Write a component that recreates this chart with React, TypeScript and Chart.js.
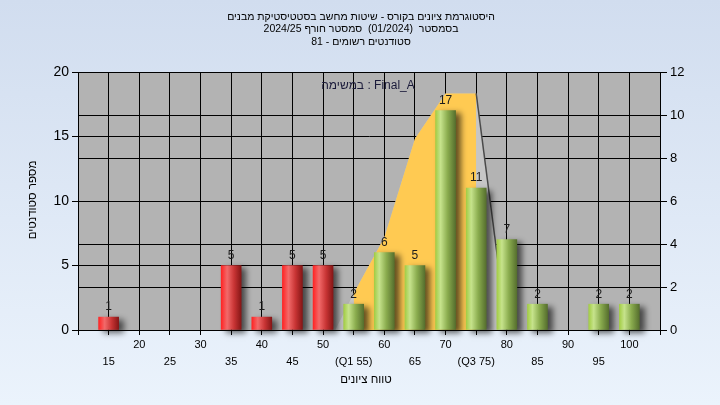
import React, { useEffect, useRef } from 'react';
import { Chart, registerables } from 'chart.js';

Chart.register(...registerables);

// ---- data ----
const redGrades = [15, 35, 40, 45, 50];
const redCounts = [1, 5, 1, 5, 5];
const greenGrades = [55, 60, 65, 70, 75, 80, 85, 95, 100];
const greenCounts = [2, 6, 5, 17, 11, 7, 2, 2, 2];

const curveGrades = [52, 55, 60, 65, 70, 75, 80];
const curveValues = [0, 1.7, 4.3, 8.9, 11, 11, 0];
const iqrGrades = [55, 55, 60, 65, 70, 75, 75];
const iqrValues = [0, 1.7, 4.3, 8.9, 11, 11, 0];
const tailGrades = [75, 80];
const tailValues = [11, 0];

const gradeTicks = [15, 20, 25, 30, 35, 40, 45, 50, 55, 60, 65, 70, 75, 80, 85, 90, 95, 100];
const gradeTickLabels = ['15', '20', '25', '30', '35', '40', '45', '50', '(Q1 55)', '60', '65', '70', '(Q3 75)', '80', '85', '90', '95', '100'];
const leftTicks = [0, 5, 10, 15, 20];
const rightTicks = [0, 2, 4, 6, 8, 10, 12];

// words in right-to-left reading order (first word drawn rightmost)
const titleLine1 = ['היסטוגרמת', 'ציונים', 'בקורס', '-', 'שיטות', 'מחשב', 'בסטטיסטיקת', 'מבנים'];
const titleLine2 = ['בסמסטר', ' (01/2024) ', 'סמסטר', 'חורף', '2024/25'];
const titleLine3 = ['סטודנטים', 'רשומים', '-', '81'];
const taskLabel = ['Final_A', ':', 'במשימה'];
const xTitle = ['טווח', 'ציונים'];
const yTitle = ['מספר', 'סטודנטים'];

const FONT = '"Liberation Sans", Arial, sans-serif';

const pts = (xs: number[], ys: number[]) => xs.map((x, i) => ({ x, y: ys[i] }));

function drawWordsRTL(ctx: any, words: string[], cx: number, y: number) {
  const space = ctx.measureText(' ').width;
  const widths = words.map((w) => ctx.measureText(w).width);
  const total = widths.reduce((a, b) => a + b, 0) + space * (words.length - 1);
  let x = cx + total / 2;
  ctx.textAlign = 'right';
  words.forEach((w, i) => {
    ctx.fillText(w, x, y);
    x -= widths[i] + space;
  });
}

function barGradient(chart: any, raw: any, stops: [number, string][]) {
  const xs = chart && chart.scales && chart.scales.x;
  if (!xs || !raw) return stops[1][1];
  const px = xs.getPixelForValue(raw.x);
  if (!isFinite(px)) return stops[1][1];
  const g = chart.ctx.createLinearGradient(px - 10, 0, px + 10, 0);
  stops.forEach(([o, c]) => g.addColorStop(o, c));
  return g;
}

const redStops: [number, string][] = [
  [0, '#ff2424'],
  [0.3, '#f26a6a'],
  [0.65, '#c83434'],
  [1, '#861616'],
];
const greenStops: [number, string][] = [
  [0, '#a3cd45'],
  [0.25, '#c6e38c'],
  [0.6, '#8aac4e'],
  [1, '#566f2e'],
];

const decorPlugin = {
  id: 'decor',
  beforeDraw(chart: any) {
    const { ctx, width, height, chartArea } = chart;
    ctx.save();
    const g = ctx.createLinearGradient(0, 0, 0, height);
    g.addColorStop(0, '#d1ddef');
    g.addColorStop(1, '#ebf3fc');
    ctx.fillStyle = g;
    ctx.fillRect(0, 0, width, height);
    ctx.fillStyle = '#b3b3b3';
    ctx.fillRect(chartArea.left, chartArea.top, chartArea.right - chartArea.left, chartArea.bottom - chartArea.top);
    ctx.restore();
  },
  beforeDatasetDraw(chart: any, args: any) {
    const ds = chart.data.datasets[args.index];
    if (ds.type === 'bar') {
      const ctx = chart.ctx;
      ctx.save();
      ctx.shadowColor = 'rgba(0,0,0,0.6)';
      ctx.shadowOffsetX = 5;
      ctx.shadowOffsetY = 3;
      ctx.shadowBlur = 6;
    }
  },
  afterDatasetDraw(chart: any, args: any) {
    const ds = chart.data.datasets[args.index];
    if (ds.type === 'bar') {
      chart.ctx.restore();
    }
  },
  afterDatasetsDraw(chart: any) {
    const ctx = chart.ctx;
    ctx.save();
    ctx.font = '12px ' + FONT;
    ctx.fillStyle = '#1c1c1c';
    ctx.textAlign = 'center';
    ctx.textBaseline = 'middle';
    chart.data.datasets.forEach((ds: any, i: number) => {
      if (ds.type !== 'bar') return;
      const meta = chart.getDatasetMeta(i);
      meta.data.forEach((el: any, j: number) => {
        ctx.fillText(String(ds.data[j].y), el.x, el.y - 10);
      });
    });
    ctx.restore();
  },
  afterDraw(chart: any) {
    const ctx = chart.ctx;
    ctx.save();
    ctx.fillStyle = '#000';
    ctx.textBaseline = 'middle';
    ctx.font = '10.5px ' + FONT;
    drawWordsRTL(ctx, titleLine1, 361, 17);
    drawWordsRTL(ctx, titleLine2, 361, 29.5);
    drawWordsRTL(ctx, titleLine3, 361, 42);
    ctx.font = '12px ' + FONT;
    ctx.fillStyle = '#1a1a3a';
    drawWordsRTL(ctx, taskLabel, 368, 86);
    ctx.fillStyle = '#000';
    ctx.font = '11.5px ' + FONT;
    drawWordsRTL(ctx, xTitle, 366, 380);
    ctx.translate(33, 200);
    ctx.rotate(-Math.PI / 2);
    drawWordsRTL(ctx, yTitle, 0, 0);
    ctx.restore();
  },
};

export default function App() {
  const ref = useRef<HTMLCanvasElement | null>(null);
  useEffect(() => {
    if (!ref.current) return;
    const chart = new Chart(ref.current, {
      type: 'bar',
      data: {
        datasets: [
          {
            type: 'bar',
            data: pts(redGrades, redCounts),
            yAxisID: 'y',
            barThickness: 20,
            grouped: false,
            clip: false as any,
            order: 1,
            backgroundColor: (c: any) => barGradient(c.chart, c.raw, redStops),
            borderWidth: 0,
          } as any,
          {
            type: 'bar',
            data: pts(greenGrades, greenCounts),
            yAxisID: 'y',
            barThickness: 20,
            grouped: false,
            clip: false as any,
            order: 1,
            backgroundColor: (c: any) => barGradient(c.chart, c.raw, greenStops),
            borderWidth: 0,
          } as any,
          {
            type: 'line',
            data: pts(tailGrades, tailValues),
            yAxisID: 'y1',
            borderColor: '#4a4a4a',
            borderWidth: 1.5,
            pointRadius: 0,
            fill: false,
            order: 2,
          } as any,
          {
            type: 'line',
            data: pts(iqrGrades, iqrValues),
            yAxisID: 'y1',
            borderWidth: 0,
            borderColor: 'rgba(0,0,0,0)',
            backgroundColor: '#ffca52',
            pointRadius: 0,
            fill: 'origin',
            order: 3,
          } as any,
          {
            type: 'line',
            data: pts(curveGrades, curveValues),
            yAxisID: 'y1',
            borderWidth: 0,
            borderColor: 'rgba(0,0,0,0)',
            backgroundColor: '#c6c6c6',
            pointRadius: 0,
            fill: 'origin',
            order: 4,
          } as any,
        ],
      },
      options: {
        responsive: false,
        animation: false,
        events: [],
        layout: { padding: { top: 72, left: 0, right: 0, bottom: 0 } },
        plugins: {
          legend: { display: false },
          tooltip: { enabled: false },
          title: { display: false },
        },
        scales: {
          x: {
            type: 'linear',
            position: 'bottom',
            offset: false,
            min: 10,
            max: 105,
            afterBuildTicks: (s: any) => {
              s.ticks = [10, ...gradeTicks, 105].map((v) => ({ value: v }));
            },
            afterFit: (s: any) => {
              s.height = 75;
            },
            ticks: {
              autoSkip: false,
              maxRotation: 0,
              minRotation: 0,
              padding: 1,
              color: '#000',
              font: { family: FONT, size: 11, lineHeight: 1.6 },
              callback: (v: any) => {
                const i = gradeTicks.indexOf(Number(v));
                if (i < 0) return '';
                return i % 2 === 0 ? ['', gradeTickLabels[i]] : [gradeTickLabels[i]];
              },
            },
            grid: { color: '#000', lineWidth: 1, tickLength: 5, offset: false },
            border: { color: '#000', width: 1 },
          },
          y: {
            position: 'left',
            min: 0,
            max: 20,
            afterBuildTicks: (s: any) => {
              s.ticks = leftTicks.map((v) => ({ value: v }));
            },
            afterFit: (s: any) => {
              s.width = 78;
            },
            ticks: {
              padding: 3,
              color: '#000',
              font: { family: FONT, size: 14 },
            },
            grid: { color: '#000', lineWidth: 1, tickLength: 6 },
            border: { color: '#000', width: 1 },
          },
          y1: {
            position: 'right',
            min: 0,
            max: 12,
            afterBuildTicks: (s: any) => {
              s.ticks = rightTicks.map((v) => ({ value: v }));
            },
            afterFit: (s: any) => {
              s.width = 60;
            },
            ticks: {
              padding: 3,
              color: '#000',
              font: { family: FONT, size: 13 },
            },
            grid: { color: '#000', lineWidth: 1, tickLength: 7 },
            border: { color: '#000', width: 1 },
          },
        },
      } as any,
      plugins: [decorPlugin as any],
    });
    return () => chart.destroy();
  }, []);
  return (
    <div style={{ position: 'absolute', left: 0, top: 0, width: 720, height: 405 }}>
      <canvas ref={ref} width={720} height={405} style={{ display: 'block' }} />
    </div>
  );
}
